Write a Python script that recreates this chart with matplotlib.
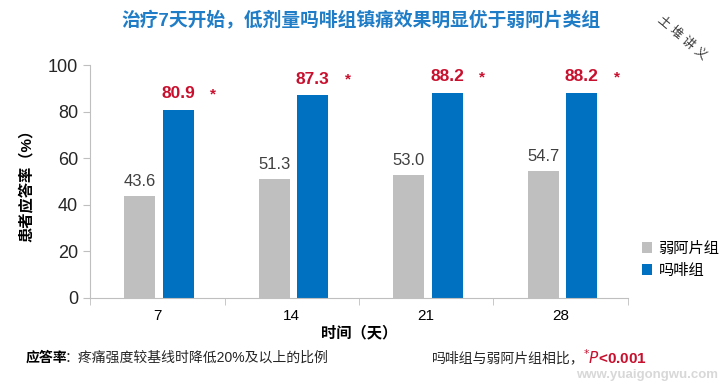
import matplotlib
matplotlib.use("Agg")
import matplotlib.pyplot as plt
import numpy as np

plt.rcParams['font.family'] = ['Liberation Sans', 'Noto Sans CJK SC', 'DejaVu Sans']

days = ['7', '14', '21', '28']
weak_opioid = [43.6, 51.3, 53.0, 54.7]
morphine = [80.9, 87.3, 88.2, 88.2]
series_names = ['弱阿片组', '吗啡组']

gray = '#BFBFBF'
blue = '#0070C0'
red = '#C8102E'

fig = plt.figure(figsize=(7.22, 3.81), dpi=100)
ax = fig.add_axes([0.1247, 0.218, 0.745, 0.611])

x = np.arange(len(days))
w = 0.23
b1 = ax.bar(x - 0.13, weak_opioid, w, color=gray, label=series_names[0])
b2 = ax.bar(x + 0.155, morphine, w, color=blue, label=series_names[1])

for xi, v in zip(x - 0.13, weak_opioid):
    ax.text(xi, v + 3, f'{v:.1f}', ha='center', va='bottom', fontsize=12, color='#404040')
for xi, v in zip(x + 0.155, morphine):
    ax.text(xi, v + 3.5, f'{v:.1f}', ha='center', va='bottom', fontsize=12.5,
            color=red, fontweight='bold')
    ax.text(xi + 0.26, v + 3.5, '*', ha='center', va='bottom', fontsize=11,
            color=red, fontweight='bold')

ax.set_xlim(-0.5, len(days) - 0.5)
ax.set_ylim(0, 100)
ax.set_yticks(range(0, 101, 20))
ax.set_xticks(x)
ax.set_xticklabels(days)
ax.set_xticks(np.arange(-0.5, len(days), 1), minor=True)
ax.tick_params(axis='x', which='major', length=0, labelsize=11, pad=8)
ax.tick_params(axis='x', which='minor', length=5, color='#BFBFBF')
ax.tick_params(axis='y', labelsize=13, length=5, color='#BFBFBF', labelcolor='#262626')
for s in ['top', 'right']:
    ax.spines[s].set_visible(False)
for s in ['left', 'bottom']:
    ax.spines[s].set_color('#BFBFBF')

ax.set_ylabel('患者应答率（%）', fontsize=11, fontweight='bold', labelpad=10)
ax.set_xlabel('时间（天）', fontsize=11, fontweight='bold', labelpad=2)

ax.legend(handles=[b1, b2], loc='upper left', bbox_to_anchor=(1.0, 0.3),
          frameon=False, fontsize=11, handlelength=0.7, handleheight=0.7,
          handletextpad=0.4, labelspacing=0.5)

fig.text(0.5, 0.945, '治疗7天开始，低剂量吗啡组镇痛效果明显优于弱阿片类组',
         ha='center', va='center', fontsize=13.5, fontweight='bold', color='#1F7CC6')
fig.text(0.945, 0.9, '土 堆 讲 义', ha='center', va='center', fontsize=9,
         rotation=-40, color='#333333')

fig.text(0.035, 0.06, '应答率', ha='left', va='center', fontsize=10, fontweight='bold')
fig.text(0.09, 0.06, '：疼痛强度较基线时降低20%及以上的比例', ha='left', va='center',
         fontsize=10, color='#262626')
fig.text(0.598, 0.06, '吗啡组与弱阿片组相比，', ha='left', va='center',
         fontsize=10, color='#262626')
fig.text(0.808, 0.06, r'$^{*}$$\it{P}$<0.001', ha='left', va='center',
         fontsize=11, fontweight='bold', color=red)
fig.text(0.995, 0.0, 'www.yuaigongwu.com', ha='right', va='bottom',
         fontsize=9.5, fontweight='bold', color='#D8D8D8')

fig.savefig('out.png', dpi=100)
